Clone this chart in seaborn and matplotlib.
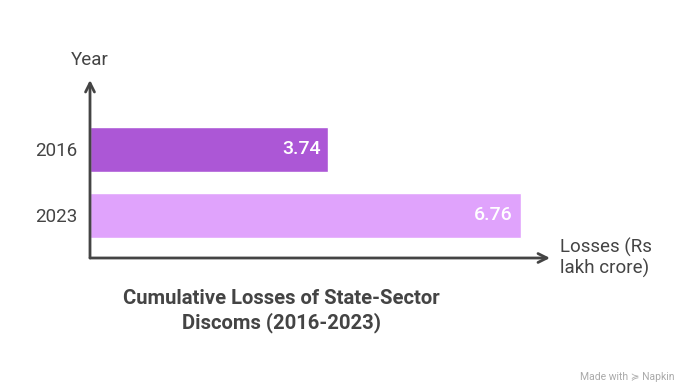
import matplotlib
matplotlib.use("Agg")
import matplotlib.pyplot as plt
import seaborn as sns
import pandas as pd

years = ["2016", "2023"]
losses = [3.74, 6.76]
colors = ["#AC57D6", "#E0A3FC"]
title = "Cumulative Losses of State-Sector\nDiscoms (2016-2023)"
x_label = "Losses (Rs\nlakh crore)"
y_label = "Year"

sns.set_theme(style="white")
plt.rcParams["font.family"] = ["Roboto", "DejaVu Sans"]
text_color = "#444444"

df = pd.DataFrame({"Year": years, "Losses": losses})

fig = plt.figure(figsize=(6.9, 3.9), dpi=100)
ax = fig.add_axes([90/690, (390-258)/390, (550-90)/690, (258-80)/390])

sns.barplot(data=df, x="Losses", y="Year", hue="Year", palette=colors,
            orient="h", width=0.68, legend=False, ax=ax, saturation=1)

ax.set_xlim(0, 460/63.7)
ax.set_ylim(1.644, -1.053)
for s in ax.spines.values():
    s.set_visible(False)
ax.set_xticks([])
ax.set_xlabel("")
ax.set_ylabel("")
ax.tick_params(axis="y", length=0, pad=9, labelsize=13.5, labelcolor=text_color)

for i, v in enumerate(losses):
    ax.text(v - 0.12, i, f"{v:.2f}", ha="right", va="center", color="white",
            fontsize=14, fontweight="medium")

# axis arrows
ax.annotate("", xy=(1, 0), xytext=(0, 0), xycoords="axes fraction",
            arrowprops=dict(arrowstyle="->", color=text_color, lw=2,
                            mutation_scale=16, shrinkA=0, shrinkB=0))
ax.annotate("", xy=(0, 1), xytext=(0, 0), xycoords="axes fraction",
            arrowprops=dict(arrowstyle="->", color=text_color, lw=2,
                            mutation_scale=16, shrinkA=0, shrinkB=0))

fig.text(90/690, 1 - 60/390, y_label, ha="center", va="center",
         fontsize=13.5, color=text_color)
fig.text(560/690, 1 - 258/390, x_label, ha="left", va="center",
         fontsize=13.5, color=text_color, linespacing=1.15)
fig.text(281/690, 1 - 311/390, title, ha="center", va="center",
         fontsize=14.6, fontweight="bold", color=text_color, linespacing=1.3)
fig.text(674/690, 1 - 377/390, "Made with \u227d Napkin", ha="right", va="center",
         fontsize=7.5, color="#aaaaaa")

fig.savefig("out.png", dpi=100, facecolor="white")
